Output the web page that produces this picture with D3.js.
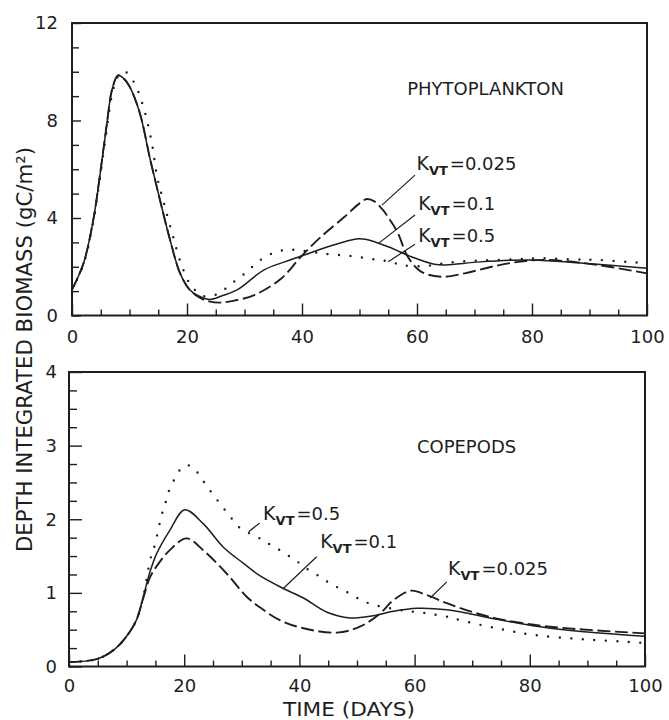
<!DOCTYPE html>
<html>
<head>
<meta charset="utf-8">
<script src="https://cdn.jsdelivr.net/npm/d3@7"></script>
<style>
  html, body { margin: 0; padding: 0; background: #fff; }
  svg { display: block; }
  text { font-family: "DejaVu Sans", sans-serif; fill: #1e1e1e; }
</style>
</head>
<body>
<svg id="chart" width="669" height="720"></svg>
<script>
// ---------------- DATA ----------------
const xMajorTicks = [0, 20, 40, 60, 80, 100];
const phytoYTicks = [0, 4, 8, 12];
const copeYTicks = [0, 1, 2, 3, 4];

// Phytoplankton, [day, gC/m2]
const phytoK0025 = [[0,1.05],[2,2.14],[3.7,3.92],[4.9,5.83],[6,7.75],[7,9.3],[8,9.85],[9,9.72],[10,9.4],[11.8,8.3],[13.6,6.4],[15.3,4.74],[17,3.15],[18.8,1.73],[20.5,1.05],[22.3,0.72],[24,0.57],[25.8,0.53],[28,0.6],[31.7,0.84],[36.4,1.52],[39.8,2.41],[43.3,3.23],[47.4,4.05],[50,4.6],[51.3,4.78],[52.6,4.68],[54,4.35],[55.5,3.85],[56.7,3.37],[58.4,2.41],[60.7,1.8],[64.2,1.59],[68.3,1.73],[73,2.0],[77.6,2.2],[82,2.28],[90,2.12],[100,1.73]];
const phytoK01 = [[0,1.05],[2,2.14],[3.7,3.92],[4.9,5.83],[6,7.75],[7,9.3],[8,9.85],[9,9.72],[10,9.4],[11.8,8.3],[13.6,6.4],[15.3,4.74],[17,3.15],[18.8,1.73],[20.5,1.05],[22.3,0.77],[24,0.66],[26,0.8],[28.7,1.05],[33.4,1.87],[37,2.2],[40.4,2.48],[44.5,2.82],[49.4,3.14],[51,3.13],[55,2.82],[59,2.41],[63,2.1],[65,2.07],[71,2.2],[80,2.28],[89,2.14],[100,1.94]];
const phytoK05 = [[0,1.05],[2,2.1],[3.7,3.85],[4.9,5.7],[6,7.55],[7,9.1],[8,9.8],[9.2,10.0],[10.7,9.6],[12.4,8.57],[13.9,7.06],[14.8,5.7],[16,4.6],[17.5,3.3],[19,2.1],[20.5,1.3],[22,0.92],[23.2,0.78],[25.2,0.87],[27,1.16],[28.7,1.49],[30.5,1.8],[32,2.14],[34,2.46],[36,2.64],[38,2.7],[40,2.66],[42.6,2.58],[44.6,2.52],[48.6,2.44],[52.7,2.3],[55.3,2.21],[57.4,2.07],[61.4,2.03],[65.5,2.17],[71,2.26],[76.8,2.3],[81,2.35],[87.4,2.3],[91.5,2.28],[98.3,2.17],[100,2.15]];

// Copepods, [day, gC/m2]
const copeK0025 = [[0,0.06],[4.8,0.1],[7.7,0.22],[10,0.41],[11.7,0.63],[12.9,0.93],[14,1.2],[15.2,1.36],[17.5,1.58],[20.4,1.74],[23.3,1.58],[27.4,1.26],[30.8,0.95],[33.2,0.8],[36.6,0.63],[40.7,0.52],[46.5,0.46],[50.5,0.54],[54,0.72],[56.3,0.9],[59.4,1.03],[62.1,0.97],[65.6,0.86],[70,0.74],[75,0.64],[83.5,0.54],[100,0.45]];
const copeK01 = [[0,0.06],[4.8,0.1],[7.7,0.22],[10,0.41],[11.7,0.63],[12.9,0.95],[14,1.27],[15.2,1.53],[17.5,1.85],[20.1,2.13],[23.3,1.94],[26.8,1.62],[30.3,1.4],[33.2,1.23],[37.2,1.06],[40.7,0.93],[44.7,0.74],[48.8,0.66],[52.8,0.69],[56.3,0.75],[60.4,0.79],[65.6,0.77],[75,0.63],[83.5,0.52],[100,0.41]];
const copeK05 = [[0,0.06],[4.8,0.1],[7.7,0.22],[10,0.41],[11.7,0.63],[12.9,0.95],[14.1,1.45],[14.9,1.65],[16.1,2.06],[16.9,2.26],[17.5,2.42],[18.6,2.58],[19.8,2.72],[21.3,2.72],[22.7,2.59],[23.9,2.45],[25.2,2.32],[26.5,2.18],[27.8,2.06],[29.1,1.92],[30.8,1.83],[32.9,1.75],[34.6,1.67],[36.6,1.58],[38.4,1.49],[40.1,1.4],[41.8,1.3],[43.6,1.22],[45.3,1.13],[47,1.06],[48.8,0.99],[50.8,0.9],[52.8,0.84],[58.1,0.76],[61.5,0.73],[63.8,0.7],[66.1,0.67],[67.9,0.63],[74.2,0.52],[80.6,0.43],[89.3,0.37],[98,0.33],[100,0.32]];

// Annotation labels (data coordinates): value text, label anchor, leader line from -> to
const phytoLabels = [
  { value: "0.025", at: [59.9, 5.97], from: [59.65, 5.76], to: [53.9, 4.53] },
  { value: "0.1",   at: [60.2, 4.33], from: [59.65, 4.12], to: [53.3, 2.96] },
  { value: "0.5",   at: [60.2, 3.03], from: [59.65, 2.92], to: [55.0, 2.21] }
];
const copeLabels = [
  { value: "0.5",   at: [33.7, 1.99], from: [33.1, 1.95], to: [31.2, 1.83] },
  { value: "0.1",   at: [43.6, 1.61], from: [43.0, 1.49], to: [37.2, 1.06] },
  { value: "0.025", at: [65.8, 1.24], from: [65.6, 1.15], to: [62.7, 0.93] }
];
const phytoTitle = { text: "PHYTOPLANKTON", at: [58.3, 9.05] };
const copeTitle = { text: "COPEPODS", at: [60.4, 2.90] };

// ---------------- DRAW ----------------
const svg = d3.select("#chart");
const ink = "#1e1e1e";

const panels = [
  { left: 72, right: 647, top: 23, bottom: 315.5, ymax: 12, yTicks: phytoYTicks, yMinorStep: 1,
    xPad: 14.7, yPad: 14, yMajorLen: 9, yMinorLen: 7,
    series: [phytoK0025, phytoK01, phytoK05], labels: phytoLabels, title: phytoTitle },
  { left: 69, right: 645, top: 372, bottom: 666.5, ymax: 4, yTicks: copeYTicks, yMinorStep: 0.25,
    xPad: 12.5, yPad: 12, yMajorLen: 13, yMinorLen: 8,
    series: [copeK0025, copeK01, copeK05], labels: copeLabels, title: copeTitle }
];

const styles = [
  { width: 1.9, dash: "13,4.5", cap: "butt" },   // K=0.025 dashed
  { width: 1.5, dash: null, cap: "butt" },        // K=0.1 solid
  { width: 2.4, dash: "0,11.5", cap: "round" }    // K=0.5 dotted
];

panels.forEach(p => {
  const x = d3.scaleLinear().domain([0, 100]).range([p.left, p.right]);
  const y = d3.scaleLinear().domain([0, p.ymax]).range([p.bottom, p.top]);
  const g = svg.append("g");

  // minor ticks
  g.append("g").attr("transform", `translate(0,${p.bottom})`)
    .call(d3.axisBottom(x).tickValues(d3.range(5, 100, 5).filter(v => v % 20 !== 0))
      .tickSize(-6).tickFormat(""))
    .call(a => a.select(".domain").remove());
  g.append("g").attr("transform", `translate(${p.left},0)`)
    .call(d3.axisLeft(y).tickValues(d3.range(p.yMinorStep, p.ymax, p.yMinorStep)
        .filter(v => !p.yTicks.some(t => Math.abs(t - v) < 1e-6)))
      .tickSize(-p.yMinorLen).tickFormat(""))
    .call(a => a.select(".domain").remove());

  // major ticks and labels
  const xa = g.append("g").attr("transform", `translate(0,${p.bottom})`)
    .call(d3.axisBottom(x).tickValues(xMajorTicks).tickSizeInner(-12).tickSizeOuter(0)
      .tickPadding(p.xPad).tickFormat(d3.format("d")));
  const ya = g.append("g").attr("transform", `translate(${p.left},0)`)
    .call(d3.axisLeft(y).tickValues(p.yTicks).tickSizeInner(-p.yMajorLen).tickSizeOuter(0)
      .tickPadding(p.yPad).tickFormat(d3.format("d")));
  [xa, ya].forEach(a => {
    a.select(".domain").remove();
    a.attr("font-family", null).attr("font-size", null);
    a.selectAll("text").style("font-size", "18px").attr("fill", ink);
  });
  g.selectAll(".tick line").attr("stroke", ink).attr("stroke-width", 1.4);

  // frame
  g.append("rect").attr("x", p.left).attr("y", p.top)
    .attr("width", p.right - p.left).attr("height", p.bottom - p.top)
    .attr("fill", "none").attr("stroke", ink).attr("stroke-width", 2);

  // curves
  const line = d3.line().x(d => x(d[0])).y(d => y(d[1])).curve(d3.curveCatmullRom.alpha(0.5));
  p.series.forEach((s, i) => {
    const st = styles[i];
    g.append("path").datum(s).attr("d", line)
      .attr("fill", "none").attr("stroke", ink)
      .attr("stroke-width", st.width)
      .attr("stroke-dasharray", st.dash)
      .attr("stroke-linecap", st.cap)
      .attr("stroke-linejoin", "round");
  });

  // title
  g.append("text").attr("x", x(p.title.at[0])).attr("y", y(p.title.at[1]))
    .style("font-size", "18px").text(p.title.text);

  // K labels with leader lines
  p.labels.forEach(l => {
    g.append("line")
      .attr("x1", x(l.from[0])).attr("y1", y(l.from[1]))
      .attr("x2", x(l.to[0])).attr("y2", y(l.to[1]))
      .attr("stroke", ink).attr("stroke-width", 1.2);
    const t = g.append("text").attr("x", x(l.at[0])).attr("y", y(l.at[1]))
      .style("font-size", "19px");
    t.append("tspan").text("K");
    t.append("tspan").attr("dy", 5).attr("dx", 0).style("font-size", "13px").style("font-weight", "bold").text("VT");
    t.append("tspan").attr("dy", -5).attr("dx", 2).style("font-size", "18px").text("=" + l.value);
  });
});

// axis titles
svg.append("text")
  .attr("transform", "translate(32,349.5) rotate(-90)")
  .attr("text-anchor", "middle")
  .attr("textLength", 405).attr("lengthAdjust", "spacingAndGlyphs")
  .style("font-size", "21px")
  .text("DEPTH INTEGRATED BIOMASS (gC/m²)");

svg.append("text")
  .attr("x", 349).attr("y", 716)
  .attr("text-anchor", "middle")
  .attr("textLength", 132).attr("lengthAdjust", "spacingAndGlyphs")
  .style("font-size", "20px")
  .text("TIME (DAYS)");
</script>
</body>
</html>
